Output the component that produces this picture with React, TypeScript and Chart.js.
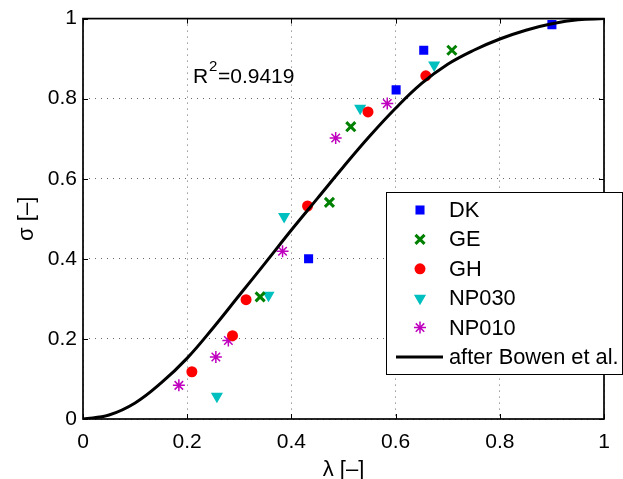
import React, { useEffect, useRef } from 'react';
import { Chart, registerables } from 'chart.js';

Chart.register(...registerables);

// ---- data ----
const dkLambda = [0.900, 0.654, 0.601, 0.433];
const dkSigma = [0.985, 0.921, 0.822, 0.400];
const geLambda = [0.708, 0.514, 0.473, 0.340];
const geSigma = [0.921, 0.730, 0.541, 0.305];
const ghLambda = [0.658, 0.547, 0.431, 0.313, 0.287, 0.209];
const ghSigma = [0.857, 0.767, 0.532, 0.298, 0.208, 0.118];
const np030Lambda = [0.674, 0.532, 0.386, 0.356, 0.257];
const np030Sigma = [0.884, 0.776, 0.506, 0.309, 0.057];
const np010Lambda = [0.584, 0.485, 0.383, 0.279, 0.255, 0.184];
const np010Sigma = [0.788, 0.702, 0.419, 0.196, 0.155, 0.084];
const bowenLambda = [0, 0.05, 0.1, 0.15, 0.2, 0.25, 0.3, 0.35, 0.4, 0.45, 0.5, 0.55, 0.6, 0.65, 0.7, 0.75, 0.8, 0.85, 0.9, 0.95, 1];
const bowenSigma = [0, 0.010, 0.040, 0.090, 0.152, 0.228, 0.309, 0.390, 0.472, 0.551, 0.630, 0.706, 0.776, 0.838, 0.886, 0.921, 0.949, 0.971, 0.987, 0.997, 1.0];

const tickValues = [0, 0.2, 0.4, 0.6, 0.8, 1];
const seriesNames = ['DK', 'GE', 'GH', 'NP030', 'NP010', 'after Bowen et al.'];
const r2Label = 'R';
const r2Sup = '2';
const r2Value = '=0.9419';
const xTitle = 'λ [–]';
const yTitle = 'σ [–]';

const FONT = '"Liberation Sans", Arial, Helvetica, sans-serif';

const pts = (xs: number[], ys: number[]) => xs.map((x, i) => ({ x, y: ys[i] }));

type MarkerKind = 'rect' | 'crossRot' | 'circle' | 'triDown' | 'star' | 'line';
const styles: { kind: MarkerKind; color: string; r: number; lw: number }[] = [
  { kind: 'rect', color: '#0000ff', r: 6.4, lw: 1 },
  { kind: 'crossRot', color: '#008000', r: 6.4, lw: 3 },
  { kind: 'circle', color: '#ff0000', r: 5.5, lw: 1 },
  { kind: 'triDown', color: '#00bfbf', r: 7, lw: 1 },
  { kind: 'star', color: '#bf00bf', r: 6, lw: 1.5 },
  { kind: 'line', color: '#000000', r: 0, lw: 3 },
];

function drawMarker(ctx: CanvasRenderingContext2D, kind: MarkerKind, x: number, y: number, r: number, color: string, lw: number) {
  ctx.save();
  ctx.fillStyle = color;
  ctx.strokeStyle = color;
  ctx.lineWidth = lw;
  ctx.beginPath();
  if (kind === 'rect') {
    const s = r * Math.SQRT1_2;
    ctx.rect(x - s, y - s, 2 * s, 2 * s);
    ctx.fill();
  } else if (kind === 'circle') {
    ctx.arc(x, y, r, 0, Math.PI * 2);
    ctx.fill();
  } else if (kind === 'triDown') {
    ctx.moveTo(x, y + r);
    ctx.lineTo(x - r * Math.sin(Math.PI / 3), y - r / 2);
    ctx.lineTo(x + r * Math.sin(Math.PI / 3), y - r / 2);
    ctx.closePath();
    ctx.fill();
  } else if (kind === 'crossRot') {
    const o = r * Math.SQRT1_2;
    ctx.moveTo(x - o, y - o); ctx.lineTo(x + o, y + o);
    ctx.moveTo(x - o, y + o); ctx.lineTo(x + o, y - o);
    ctx.stroke();
  } else if (kind === 'star') {
    const o = r * Math.SQRT1_2;
    ctx.moveTo(x - r, y); ctx.lineTo(x + r, y);
    ctx.moveTo(x, y - r); ctx.lineTo(x, y + r);
    ctx.moveTo(x - o, y - o); ctx.lineTo(x + o, y + o);
    ctx.moveTo(x - o, y + o); ctx.lineTo(x + o, y - o);
    ctx.stroke();
  }
  ctx.restore();
}

const decorPlugin = {
  id: 'decor',
  afterDraw(chart: any) {
    const { ctx, chartArea: a, scales } = chart;
    const xs = scales.x;
    const ys = scales.y;
    ctx.save();
    // inside tick marks on all four sides
    ctx.strokeStyle = '#000';
    ctx.lineWidth = 1;
    ctx.beginPath();
    for (const v of tickValues) {
      const px = Math.round(xs.getPixelForValue(v)) + 0.5;
      ctx.moveTo(px, a.bottom); ctx.lineTo(px, a.bottom - 5);
      ctx.moveTo(px, a.top); ctx.lineTo(px, a.top + 5);
      const py = Math.round(ys.getPixelForValue(v)) + 0.5;
      ctx.moveTo(a.left, py); ctx.lineTo(a.left + 5, py);
      ctx.moveTo(a.right, py); ctx.lineTo(a.right - 5, py);
    }
    ctx.stroke();
    // frame
    ctx.lineWidth = 1.7;
    ctx.strokeRect(a.left, a.top, a.right - a.left, a.bottom - a.top);

    // R^2 annotation
    ctx.fillStyle = '#000';
    ctx.textBaseline = 'alphabetic';
    ctx.textAlign = 'left';
    const rx = xs.getPixelForValue(0.211);
    const ry = ys.getPixelForValue(0.840);
    ctx.font = `21px ${FONT}`;
    ctx.fillText(r2Label, rx, ry);
    const rw = ctx.measureText(r2Label).width;
    ctx.font = `15px ${FONT}`;
    ctx.fillText(r2Sup, rx + rw + 1, ry - 12);
    const sw = ctx.measureText(r2Sup).width;
    ctx.font = `21px ${FONT}`;
    ctx.fillText(r2Value, rx + rw + sw + 1.5, ry);

    // axis titles
    ctx.font = `22px ${FONT}`;
    ctx.textAlign = 'center';
    ctx.fillText(xTitle, (a.left + a.right) / 2, 476);
    ctx.save();
    ctx.translate(33, (a.top + a.bottom) / 2);
    ctx.rotate(-Math.PI / 2);
    ctx.fillText(yTitle, 0, 0);
    ctx.restore();

    // legend
    const lx = 386, ly = 192, lw = 236, lh = 182;
    ctx.fillStyle = '#fff';
    ctx.fillRect(lx, ly, lw, lh);
    ctx.strokeStyle = '#000';
    ctx.lineWidth = 1;
    ctx.strokeRect(lx + 0.5, ly + 0.5, lw, lh);
    ctx.textAlign = 'left';
    ctx.textBaseline = 'middle';
    ctx.font = `21.8px ${FONT}`;
    seriesNames.forEach((name, i) => {
      const rowY = 210 + i * 29.4;
      const st = styles[i];
      if (st.kind === 'line') {
        ctx.strokeStyle = st.color;
        ctx.lineWidth = st.lw;
        ctx.beginPath();
        ctx.moveTo(396, rowY);
        ctx.lineTo(443, rowY);
        ctx.stroke();
      } else {
        drawMarker(ctx, st.kind, 420, rowY, st.r, st.color, st.lw);
      }
      ctx.fillStyle = '#000';
      ctx.fillText(name, 449, rowY + 1);
    });
    ctx.restore();
  },
};

export default function App() {
  const ref = useRef<HTMLCanvasElement | null>(null);
  useEffect(() => {
    if (!ref.current) return;
    const series = [
      pts(dkLambda, dkSigma),
      pts(geLambda, geSigma),
      pts(ghLambda, ghSigma),
      pts(np030Lambda, np030Sigma),
      pts(np010Lambda, np010Sigma),
    ];
    const chartStyles: any[] = [
      { pointStyle: 'rect', pointRadius: 6.4, pointBorderWidth: 0, backgroundColor: '#0000ff', borderColor: '#0000ff' },
      { pointStyle: 'crossRot', pointRadius: 6.4, pointBorderWidth: 3, backgroundColor: '#008000', borderColor: '#008000' },
      { pointStyle: 'circle', pointRadius: 5.5, pointBorderWidth: 0, backgroundColor: '#ff0000', borderColor: '#ff0000' },
      { pointStyle: 'triangle', rotation: 180, pointRadius: 7, pointBorderWidth: 0, backgroundColor: '#00bfbf', borderColor: '#00bfbf' },
      { pointStyle: 'star', pointRadius: 6, pointBorderWidth: 1.5, backgroundColor: '#bf00bf', borderColor: '#bf00bf' },
    ];
    const datasets: any[] = series.map((data, i) => ({
      label: seriesNames[i],
      data,
      showLine: false,
      order: 1,
      ...chartStyles[i],
    }));
    datasets.push({
      label: seriesNames[5],
      data: pts(bowenLambda, bowenSigma),
      showLine: true,
      borderColor: '#000',
      borderWidth: 3,
      pointRadius: 0,
      tension: 0.4,
      order: 0,
    });
    const chart = new Chart(ref.current, {
      type: 'scatter',
      data: { datasets },
      options: {
        animation: false,
        responsive: false,
        maintainAspectRatio: false,
        layout: { padding: { top: 11, right: 19, left: 0, bottom: 0 } },
        plugins: { legend: { display: false }, tooltip: { enabled: false } },
        scales: {
          x: {
            type: 'linear',
            min: 0,
            max: 1,
            afterFit: (s: any) => { s.height = 60; },
            afterBuildTicks: (s: any) => { s.ticks = tickValues.map((v) => ({ value: v })); },
            ticks: {
              color: '#000',
              font: { family: FONT, size: 21 },
              padding: 11,
              maxRotation: 0,
              callback: (v: any) => String(Number(v)),
            },
            grid: { color: 'rgba(0,0,0,0.6)', lineWidth: 1, drawTicks: false },
            border: { display: false, dash: [1, 5] },
          },
          y: {
            type: 'linear',
            min: 0,
            max: 1,
            afterFit: (s: any) => { s.width = 83; },
            afterBuildTicks: (s: any) => { s.ticks = tickValues.map((v) => ({ value: v })); },
            ticks: {
              color: '#000',
              font: { family: FONT, size: 21 },
              padding: 6,
              callback: (v: any) => String(Number(v)),
            },
            grid: { color: 'rgba(0,0,0,0.6)', lineWidth: 1, drawTicks: false },
            border: { display: false, dash: [1, 5] },
          },
        },
      },
      plugins: [decorPlugin],
    } as any);
    return () => chart.destroy();
  }, []);
  return (
    <div style={{ position: 'absolute', left: 0, top: 0, width: 623, height: 479, background: '#fff' }}>
      <canvas ref={ref} width={623} height={479} style={{ display: 'block', width: 623, height: 479 }} />
    </div>
  );
}
